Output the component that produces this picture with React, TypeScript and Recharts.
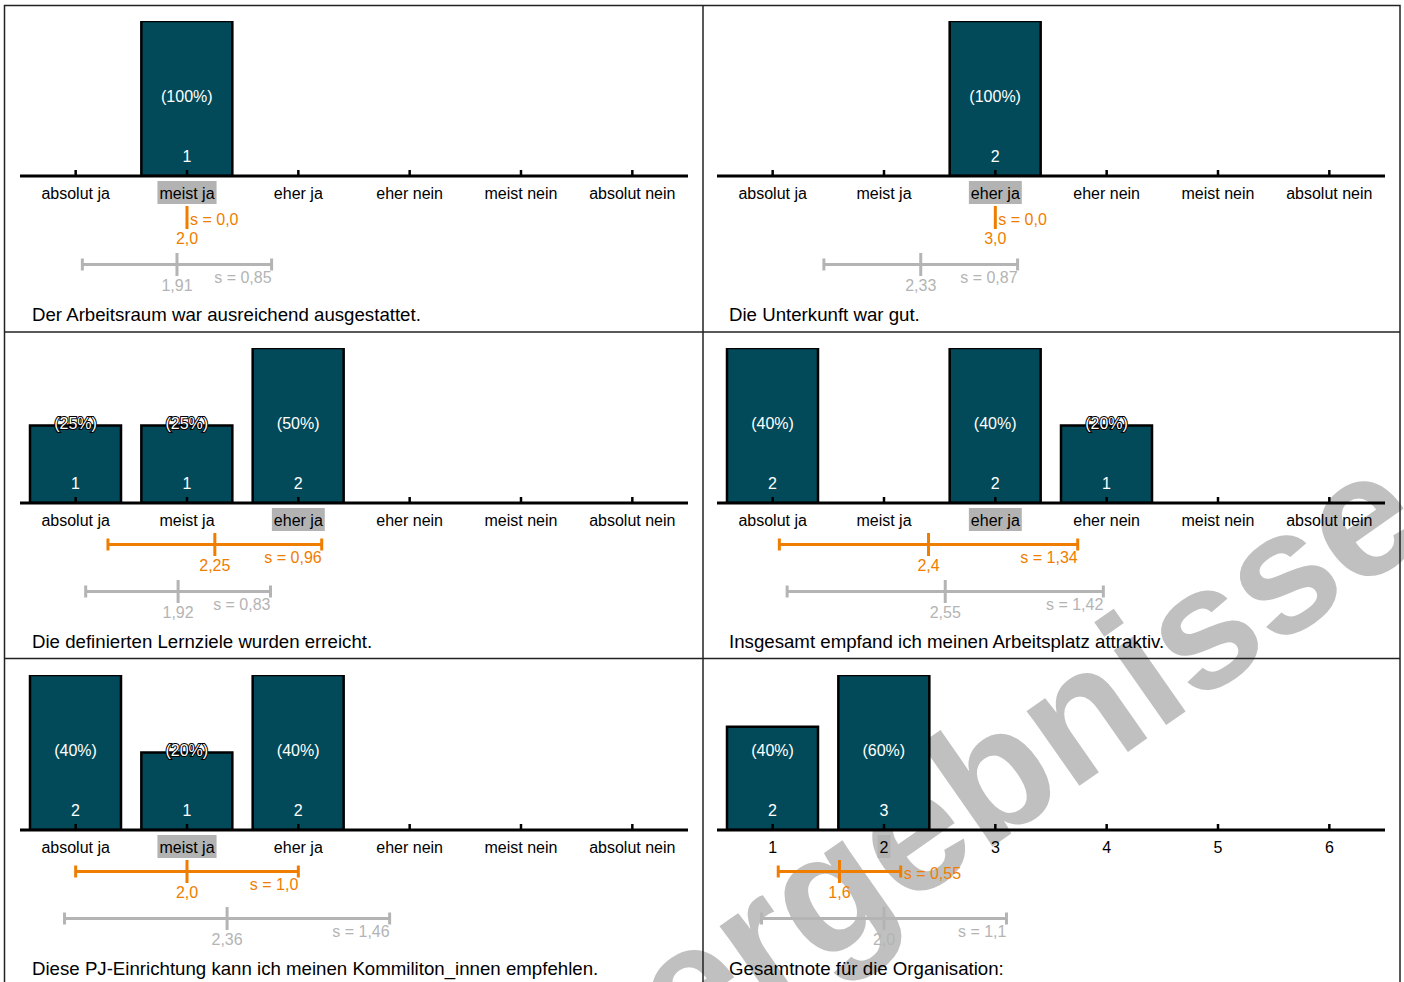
import React from 'react';
import { BarChart, Bar, XAxis, YAxis, LabelList, ScatterChart, Scatter, ErrorBar } from 'recharts';

const FONT = '"Liberation Sans", Arial, sans-serif';
const BAR_FILL = '#024a59';
const ORANGE = '#ef7d00';
const GRAY = '#b4b4b4';
const HIGHLIGHT = '#b3b3b3';
const WATERMARK = '#c0c0c0';

const categoryLabels = ['absolut ja', 'meist ja', 'eher ja', 'eher nein', 'meist nein', 'absolut nein'];
const gradeLabels = ['1', '2', '3', '4', '5', '6'];

const titles = [
  'Der Arbeitsraum war ausreichend ausgestattet.',
  'Die Unterkunft war gut.',
  'Die definierten Lernziele wurden erreicht.',
  'Insgesamt empfand ich meinen Arbeitsplatz attraktiv.',
  'Diese PJ-Einrichtung kann ich meinen Kommiliton_innen empfehlen.',
  'Gesamtnote für die Organisation:',
];

const counts1 = [0, 1, 0, 0, 0, 0];
const counts2 = [0, 0, 2, 0, 0, 0];
const counts3 = [1, 1, 2, 0, 0, 0];
const counts4 = [2, 0, 2, 1, 0, 0];
const counts5 = [2, 1, 2, 0, 0, 0];
const counts6 = [2, 3, 0, 0, 0, 0];
const allCounts = [counts1, counts2, counts3, counts4, counts5, counts6];

const medianIndex = [1, 2, 2, 2, 1, 1];
const means = [2.0, 3.0, 2.25, 2.4, 2.0, 1.6];
const sds = [0, 0, 0.96, 1.34, 1.0, 0.55];
const compMeans = [1.91, 2.33, 1.92, 2.55, 2.36, 2.0];
const compSds = [0.85, 0.87, 0.83, 1.42, 1.46, 1.1];

const fmt = (v: number) => {
  let s = String(v);
  if (!s.includes('.')) s += '.0';
  return s.replace('.', ',');
};

let ctx: CanvasRenderingContext2D | null = null;
const textWidth = (t: string, size: number) => {
  if (!ctx && typeof document !== 'undefined') ctx = document.createElement('canvas').getContext('2d');
  if (!ctx) return t.length * size * 0.5;
  ctx.font = `${size}px "Liberation Sans", Arial`;
  return ctx.measureText(t).width;
};

const PANEL_W = 698;
const PANEL_H = 327;
const colLefts = [5, 702];
const rowTops = [5, 332, 659];

function MeanShape(props: any) {
  const { cx, cy, payload, color } = props;
  return (
    <g>
      <line x1={cx} x2={cx} y1={cy - 11.5} y2={cy + 11.5} stroke={color} strokeWidth={3} />
      <text x={cx} y={cy + 26} textAnchor="middle" fontSize={16} fontFamily={FONT} fill={color}>
        {payload.text}
      </text>
    </g>
  );
}

function SLabelShape(props: any) {
  const { cx, cy, payload, color } = props;
  if (payload.short) {
    return (
      <text x={cx + 3} y={cy + 7} textAnchor="start" fontSize={16} fontFamily={FONT} fill={color}>
        {payload.text}
      </text>
    );
  }
  return (
    <text x={cx} y={cy + 18} textAnchor="end" fontSize={16} fontFamily={FONT} fill={color}>
      {payload.text}
    </text>
  );
}

function Panel({ idx }: { idx: number }) {
  const labels = idx === 5 ? gradeLabels : categoryLabels;
  const c = allCounts[idx];
  const total = c.reduce((a, b) => a + b, 0);
  const maxC = Math.max(...c);
  const rows = labels.map((label, i) => ({ label, count: c[i] }));
  const hlLabel = labels[medianIndex[idx]];
  const left = colLefts[idx % 2];
  const top = rowTops[Math.floor(idx / 2)];

  const Tick = (props: any) => {
    const { x, y, payload } = props;
    const t = String(payload.value);
    const w = textWidth(t, 16);
    return (
      <g>
        <line x1={x} x2={x} y1={y - 6} y2={y} stroke="#000" strokeWidth={2.5} />
        {t === hlLabel && <rect x={x - w / 2 - 2} y={y + 5} width={w + 4} height={23} fill={HIGHLIGHT} />}
        <text x={x} y={y + 23} textAnchor="middle" fontSize={16} fontFamily={FONT} fill="#000">
          {t}
        </text>
      </g>
    );
  };

  const renderBarLabels = (p: any) => {
    const { x, y, width, height, value } = p;
    const count = Number(value);
    if (!count) return null;
    const pct = Math.round((count / total) * 100);
    const cx = Number(x) + Number(width) / 2;
    const base = Number(y) + Number(height);
    const outlined = Number(height) < 92;
    return (
      <g>
        <text
          x={cx}
          y={base - 74}
          textAnchor="middle"
          fontSize={16}
          fontFamily={FONT}
          fill="#fff"
          stroke={outlined ? '#000' : 'none'}
          strokeWidth={outlined ? 2 : 0}
          style={{ paintOrder: 'stroke' }}
        >
          ({pct}%)
        </text>
        <text x={cx} y={base - 14} textAnchor="middle" fontSize={16} fontFamily={FONT} fill="#fff">
          {count}
        </text>
      </g>
    );
  };

  const mainStat = [{ x: means[idx], row: 'Ergebnis', err: sds[idx], text: fmt(means[idx]) }];
  const compStat = [{ x: compMeans[idx], row: 'Vergleich', err: compSds[idx], text: fmt(compMeans[idx]) }];
  const mainS = [{ x: means[idx] + sds[idx], row: 'Ergebnis', text: 's = ' + fmt(sds[idx]), short: sds[idx] < 0.7 }];
  const compS = [{ x: compMeans[idx] + compSds[idx], row: 'Vergleich', text: 's = ' + fmt(compSds[idx]), short: compSds[idx] < 0.7 }];

  return (
    <div style={{ position: 'absolute', left, top, width: PANEL_W, height: PANEL_H }}>
      <div style={{ position: 'absolute', left: 0, top: 0 }}>
        <BarChart width={PANEL_W} height={201} data={rows} margin={{ top: 16, right: 15, bottom: 0, left: 15 }}>
          <XAxis
            dataKey="label"
            type="category"
            height={30}
            axisLine={{ stroke: '#000', strokeWidth: 3 }}
            tickLine={false}
            tickSize={0}
            tickMargin={0}
            interval={0}
            tick={<Tick />}
          />
          <YAxis type="number" hide domain={[0, maxC]} allowDataOverflow />
          <Bar dataKey="count" fill={BAR_FILL} stroke="#000" strokeWidth={2.5} barSize={91} isAnimationActive={false}>
            <LabelList dataKey="count" content={renderBarLabels} />
          </Bar>
        </BarChart>
      </div>
      <div style={{ position: 'absolute', left: 0, top: 188.5 }}>
        <ScatterChart width={PANEL_W} height={126} margin={{ top: 0, right: 15, bottom: 32, left: 15 }}>
          <XAxis type="number" dataKey="x" domain={[0.5, 6.5]} allowDataOverflow hide />
          <YAxis type="category" dataKey="row" hide reversed allowDuplicatedCategory={false} />
          <Scatter data={mainStat} isAnimationActive={false} shape={(p: any) => <MeanShape {...p} color={ORANGE} />}>
            <ErrorBar dataKey="err" direction="x" width={6} strokeWidth={3} stroke={ORANGE} isAnimationActive={false} />
          </Scatter>
          <Scatter data={compStat} isAnimationActive={false} shape={(p: any) => <MeanShape {...p} color={GRAY} />}>
            <ErrorBar dataKey="err" direction="x" width={6} strokeWidth={3} stroke={GRAY} isAnimationActive={false} />
          </Scatter>
          <Scatter data={mainS} isAnimationActive={false} shape={(p: any) => <SLabelShape {...p} color={ORANGE} />} />
          <Scatter data={compS} isAnimationActive={false} shape={(p: any) => <SLabelShape {...p} color={GRAY} />} />
        </ScatterChart>
      </div>
      <div
        style={{
          position: 'absolute',
          left: 27,
          top: 299,
          fontFamily: FONT,
          fontSize: 18.67,
          lineHeight: '22px',
          color: '#000',
          whiteSpace: 'nowrap',
        }}
      >
        {titles[idx]}
      </div>
    </div>
  );
}

export default function App() {
  return (
    <div
      style={{
        position: 'absolute',
        left: 0,
        top: 0,
        width: 1404,
        height: 982,
        overflow: 'hidden',
        background: '#fff',
        fontFamily: FONT,
      }}
    >
      <svg width={1404} height={982} style={{ position: 'absolute', left: 0, top: 0 }}>
        <text
          transform="translate(1032,764) rotate(-35)"
          x={0}
          y={45}
          textAnchor="middle"
          fontSize={173}
          fontWeight="bold"
          fontFamily={FONT}
          fill={WATERMARK}
        >
          ergebnisse
        </text>
      </svg>
      {[0, 1, 2, 3, 4, 5].map((i) => (
        <Panel key={i} idx={i} />
      ))}
      <svg width={1404} height={982} style={{ position: 'absolute', left: 0, top: 0, pointerEvents: 'none' }}>
        <rect x={4.5} y={5.5} width={1395.5} height={990} fill="none" stroke="#222" strokeWidth={1.5} />
        <line x1={703} x2={703} y1={5.5} y2={982} stroke="#222" strokeWidth={1.5} />
        <line x1={4.5} x2={1400} y1={332} y2={332} stroke="#222" strokeWidth={1.5} />
        <line x1={4.5} x2={1400} y1={658.5} y2={658.5} stroke="#222" strokeWidth={1.5} />
      </svg>
    </div>
  );
}
